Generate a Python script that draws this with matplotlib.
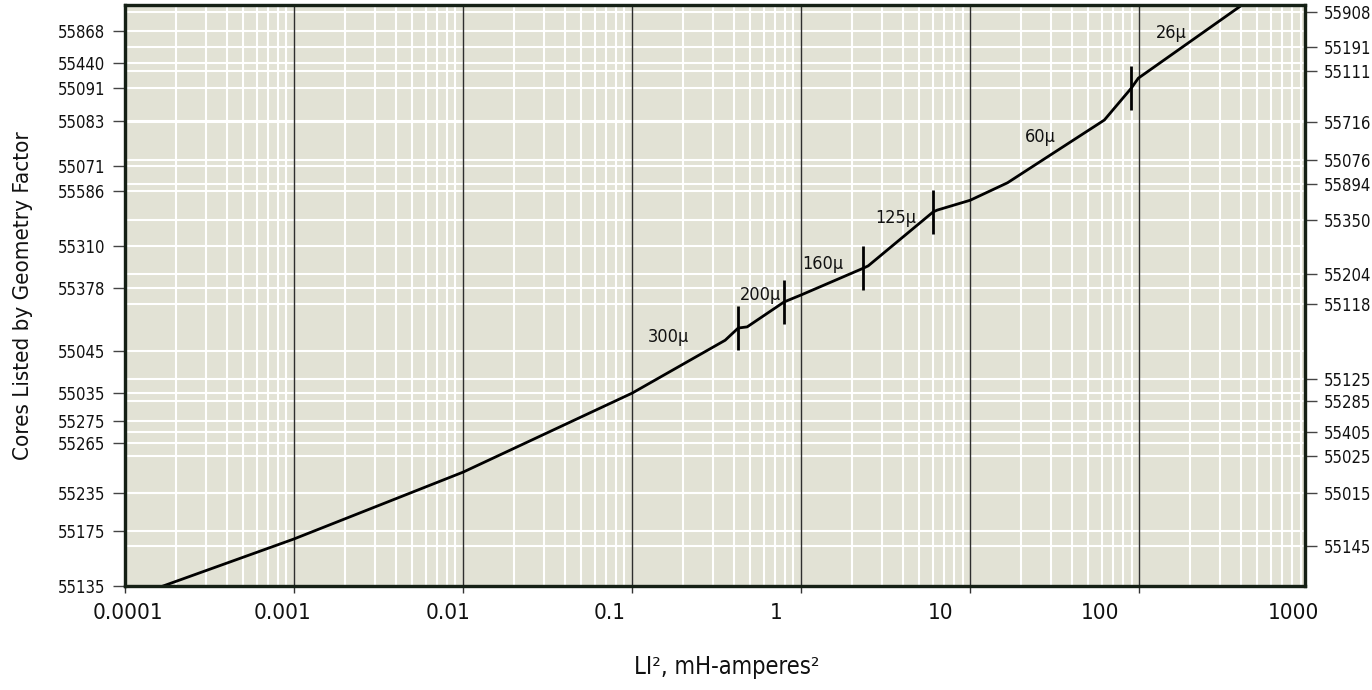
import matplotlib
matplotlib.use("Agg")
import matplotlib.pyplot as plt
from matplotlib.ticker import LogLocator, FixedLocator, NullFormatter
from matplotlib.transforms import ScaledTranslation

plt.rcParams['font.family'] = ['Liberation Sans Narrow', 'DejaVu Sans']
plt.rcParams['font.stretch'] = 'condensed'

# curve (x = LI^2, y = position on the geometry-factor scale, 0..100)
curve_x = [1.68e-4, 1e-3, 1e-2, 0.1, 0.355, 0.424, 0.479, 0.793, 1.0, 2.33, 2.49,
           6.04, 6.38, 10, 16.6, 62.1, 89.7, 98.6, 396]
curve_y = [0, 8.1, 19.6, 33.2, 42.3, 44.4, 44.6, 48.9, 50.1, 54.7, 55.1,
           64.4, 64.7, 66.4, 69.4, 80.2, 85.7, 87.4, 99.8]

# permeability boundaries along the curve
bound_x = [0.424, 0.793, 2.33, 6.04, 89.7]
bound_y = [44.4, 48.9, 54.7, 64.4, 85.7]

perm_labels = ['300µ', '200µ', '160µ', '125µ', '60µ', '26µ']
perm_x = [0.163, 0.572, 1.35, 3.60, 25.9, 154.6]
perm_y = [42.9, 50.1, 55.4, 63.3, 77.3, 95.2]

left_cores = ['55868', '55440', '55091', '55083', '55071', '55586', '55310', '55378',
              '55045', '55035', '55275', '55265', '55235', '55175', '55135']
left_pos = [95.5, 90.1, 85.7, 80.0, 72.3, 68.0, 58.5, 51.3,
            40.4, 33.2, 28.4, 24.6, 16.0, 9.5, 0.0]

right_cores = ['55908', '55191', '55111', '55716', '55076', '55894', '55350', '55204',
               '55118', '55125', '55285', '55405', '55025', '55015', '55145']
right_pos = [98.8, 92.7, 88.7, 79.9, 73.4, 69.2, 63.0, 53.7,
             48.5, 35.6, 31.8, 26.5, 22.4, 16.0, 6.9]

x_ticks = [1e-4, 1e-3, 1e-2, 1e-1, 1, 10, 100, 1000]
x_ticklabels = ['0.0001', '0.001', '0.01', '0.1', '1', '10', '100', '1000']
x_label_shift = [3, -12, -15, -23, -25, -30, -39, -15]  # px, as set in the original

bg = '#e2e2d5'
dark = '#152015'

fig = plt.figure(figsize=(13.72, 6.9), dpi=100)
ax = fig.add_axes([125 / 1372, 1 - 586 / 690, 1180 / 1372, 581 / 690])
ax.set_facecolor(bg)
ax.set_xscale('log')
ax.set_xlim(1e-4, 955)
ax.set_ylim(0, 100)

# grid: white minor verticals, white horizontals at each core, dark decade lines on top
ax.xaxis.set_minor_locator(LogLocator(base=10, subs=range(2, 10)))
ax.xaxis.set_minor_formatter(NullFormatter())
ax.xaxis.set_major_locator(FixedLocator(x_ticks[:-1]))
ax.set_xticklabels([''] * (len(x_ticks) - 1))
ax.grid(which='minor', axis='x', color='white', lw=1.5)
ax.set_axisbelow(True)
for yy in left_pos + right_pos:
    ax.axhline(yy, color='white', lw=1.5, zorder=1)
for v in x_ticks[1:-1]:
    ax.axvline(v, color='#2e2e2e', lw=1.0, zorder=2)

ax.tick_params(axis='x', which='major', direction='out', length=5, width=1, color='#333333')
ax.tick_params(axis='x', which='minor', length=0)

for v, lbl, dx in zip(x_ticks, x_ticklabels, x_label_shift):
    tr = ax.get_xaxis_transform() + ScaledTranslation(dx / 100, 0, fig.dpi_scale_trans)
    ax.text(v, -0.046, lbl, transform=tr, ha='center', va='center', fontsize=16, color='#111111')

# left and right core lists
ax.set_yticks(left_pos)
ax.set_yticklabels(left_cores, fontsize=12, color='#111111')
ax.tick_params(axis='y', direction='out', length=8.5, width=1, color='#444444', pad=6)

ax2 = ax.twinx()
ax2.set_ylim(0, 100)
ax2.set_yticks(right_pos)
ax2.set_yticklabels(right_cores, fontsize=12, color='#111111')
ax2.tick_params(axis='y', direction='out', length=8.5, width=1, color='#444444', pad=5)

for a in (ax, ax2):
    for s in a.spines.values():
        s.set_color(dark)
        s.set_linewidth(2.3)

# the curve and permeability boundaries
ax.plot(curve_x, curve_y, color='black', lw=2.0, zorder=5)
ax.plot(bound_x, bound_y, ls='none', marker='|', ms=32, mew=2.0, color='black', zorder=6)
for t, px, py in zip(perm_labels, perm_x, perm_y):
    ax.text(px, py, t, ha='center', va='center', fontsize=13, color='#111111', zorder=7)

ax.set_xlabel('LI², mH-amperes²', fontsize=17, color='#111111')
ax.xaxis.set_label_coords(0.51, -0.118)
ax.set_ylabel('Cores Listed by Geometry Factor', fontsize=16, color='#111111')
ax.yaxis.set_label_coords(-0.078, 0.5)

fig.savefig('out.png', dpi=100)
